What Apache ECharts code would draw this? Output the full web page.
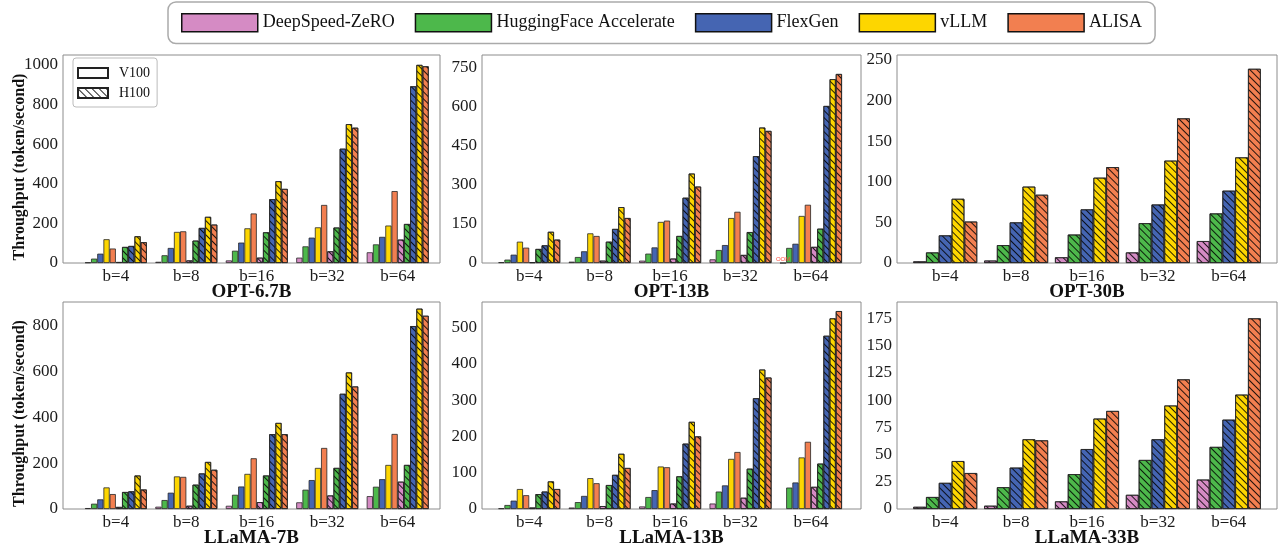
<!DOCTYPE html>
<html><head><meta charset="utf-8">
<script src="https://cdn.jsdelivr.net/npm/echarts@6/dist/echarts.min.js"></script>
<style>html,body{margin:0;padding:0;background:#fff}#c{width:1283px;height:550px}</style>
</head><body><div id="c"></div><script>
// ---------- data ----------
const batchLabels = ['b=4', 'b=8', 'b=16', 'b=32', 'b=64'];
const frameworks = ['DeepSpeed-ZeRO', 'HuggingFace Accelerate', 'FlexGen', 'vLLM', 'ALISA'];
const deviceLabels = ['V100', 'H100'];
const panelTitles = ['OPT-6.7B', 'OPT-13B', 'OPT-30B', 'LLaMA-7B', 'LLaMA-13B', 'LLaMA-33B'];
const yMaxes = [1050, 800, 256, 902, 570, 190];
const yIntervals = [200, 150, 50, 200, 100, 25];
const yAxisTitle = 'Throughput (token/second)';

// rows = frameworks (DeepSpeed, HF, FlexGen, vLLM, ALISA), cols = batch sizes
const opt67b_V100 = [[3, 6, 13, 27, 54], [22, 39, 62, 84, 94], [47, 76, 103, 128, 132], [120, 157, 175, 180, 189], [73, 160, 250, 293, 363]];
const opt67b_H100 = [[5, 13, 27, 59, 118], [81, 113, 155, 179, 197], [86, 177, 322, 577, 892], [135, 233, 413, 701, 1000], [105, 194, 374, 683, 993]];
const opt13b_V100 = [[3, 5, 9, 14, null], [13, 23, 36, 50, 58], [32, 45, 60, 69, 74], [82, 114, 158, 173, 181], [59, 104, 163, 197, 224]];
const opt13b_H100 = [[3, 9, 17, 31, 62], [54, 82, 104, 119, 132], [68, 131, 251, 411, 604], [120, 215, 344, 521, 707], [90, 173, 294, 508, 727]];
const opt30b_H100 = [[2, 3, 7, 13, 27], [13, 22, 35, 49, 61], [34, 50, 66, 72, 89], [79, 94, 105, 126, 130], [51, 84, 118, 178, 239]];
const llama7b_V100 = [[4, 10, 14, 29, 56], [23, 39, 62, 84, 97], [42, 71, 98, 126, 130], [94, 142, 153, 179, 192], [65, 140, 221, 266, 327]];
const llama7b_H100 = [[9, 14, 30, 59, 119], [74, 106, 146, 179, 192], [77, 155, 326, 502, 797], [146, 205, 375, 595, 873], [85, 171, 326, 534, 842]];
const llama13b_V100 = [[2, 4, 7, 15, null], [11, 19, 33, 48, 59], [23, 36, 52, 65, 73], [55, 85, 117, 138, 142], [38, 71, 115, 157, 185]];
const llama13b_H100 = [[4, 8, 15, 31, 61], [41, 66, 90, 111, 125], [48, 94, 180, 305, 477], [76, 152, 240, 384, 525], [55, 113, 200, 362, 545]];
const llama33b_H100 = [[2, 3, 7, 13, 27], [11, 20, 32, 45, 57], [24, 38, 55, 64, 82], [44, 64, 83, 95, 105], [33, 63, 90, 119, 175]];
const oomMarks = [{ panel: 1, device: 'V100', framework: 0, batch: 4 }];

// ---------- layout / style ----------
const panelV100 = [opt67b_V100, opt13b_V100, null, llama7b_V100, llama13b_V100, null];
const panelH100 = [opt67b_H100, opt13b_H100, opt30b_H100, llama7b_H100, llama13b_H100, llama33b_H100];
const colors = ['#D58BC4', '#4DB84B', '#4565B2', '#FDD600', '#F27F50'];
const colLeft = [63, 482, 897], colWidth = [377, 379, 380];
const colXMin = [-0.75, -0.67, -0.68], colXMax = [4.6, 4.71, 4.68];
const rowTop = [55, 302], rowHeight = [208, 207];
const FONT = 'Liberation Serif';
const hatch = { symbol: 'rect', symbolSize: 1, color: 'rgba(0,0,0,0.85)', dashArrayX: [1, 0], dashArrayY: [1, 4], rotation: Math.PI / 4 };

const grids = [], xAxes = [], yAxes = [], series = [];
for (let p = 0; p < 6; p++) {
  const r = Math.floor(p / 3), c = p % 3;
  grids.push({ left: colLeft[c], top: rowTop[r], width: colWidth[c], height: rowHeight[r],
    show: true, borderColor: '#8c8c8c', borderWidth: 1, backgroundColor: '#fff', outerBoundsMode: 'none', containLabel: false });
  xAxes.push({ type: 'value', gridIndex: p, min: colXMin[c], max: colXMax[c], minInterval: 1, maxInterval: 1,
    axisLine: { show: false }, splitLine: { show: false }, axisTick: { show: false },
    axisLabel: { customValues: [0, 1, 2, 3, 4], margin: 5, fontFamily: FONT, fontSize: 17, color: '#1a1a1a',
      formatter: v => (Number.isInteger(v) && v >= 0 && v < batchLabels.length) ? batchLabels[v] : '' },
    name: panelTitles[p], nameLocation: 'middle', nameGap: 20, nameMoveOverlap: false,
    nameTextStyle: { fontFamily: FONT, fontSize: 19, fontWeight: 'bold', color: '#111' } });
  const iv = yIntervals[p];
  const ya = { type: 'value', gridIndex: p, min: 0, max: yMaxes[p], interval: iv,
    axisLine: { show: false }, splitLine: { show: false }, axisTick: { show: false },
    axisLabel: { margin: 5, fontFamily: FONT, fontSize: 17, color: '#1a1a1a', showMaxLabel: true,
      formatter: v => (v % iv === 0 ? String(v) : '') } };
  if (c === 0) {
    Object.assign(ya, { name: yAxisTitle, nameLocation: 'middle', nameRotate: 90, nameGap: 35, nameMoveOverlap: false,
      nameTextStyle: { fontFamily: FONT, fontSize: 16, fontWeight: 'bold', color: '#111', padding: [0, 16, 0, 0] } });
  }
  yAxes.push(ya);

  const hasV = !!panelV100[p];
  const bw = hasV ? 6.2 : 12.8;
  const devices = hasV ? [['V100', panelV100[p]], ['H100', panelH100[p]]] : [['H100', panelH100[p]]];
  devices.forEach(([dev, arr]) => {
    arr.forEach((vals, fi) => {
      const data = vals.map((v, bi) => {
        if (v === null) {
          const oom = oomMarks.some(o => o.panel === p && o.device === dev && o.framework === fi && o.batch === bi);
          if (oom) return { value: [bi, 0], label: { show: true, position: 'top', distance: 0, formatter: 'OOM',
            color: '#ff4a3a', fontSize: 6, fontFamily: 'Liberation Sans' } };
          return [bi, '-'];
        }
        return [bi, v];
      });
      series.push({ type: 'bar', name: frameworks[fi], xAxisIndex: p, yAxisIndex: p, data,
        barWidth: bw, barGap: '0%', emphasis: { disabled: true }, silent: true,
        labelLayout: { hideOverlap: false },
        itemStyle: Object.assign({ color: colors[fi], borderColor: '#262626', borderWidth: 0.8 }, dev === 'H100' ? { decal: hatch } : {}) });
    });
  });
}
// hidden grid hosting the V100/H100 key series
grids.push({ left: 0, top: 0, width: 5, height: 5, show: false, outerBoundsMode: 'none' });
xAxes.push({ type: 'value', gridIndex: 6, show: false });
yAxes.push({ type: 'value', gridIndex: 6, show: false });
series.push({ type: 'bar', name: deviceLabels[0], xAxisIndex: 6, yAxisIndex: 6, data: [],
  itemStyle: { color: '#fff', borderColor: '#222', borderWidth: 1 } });
series.push({ type: 'bar', name: deviceLabels[1], xAxisIndex: 6, yAxisIndex: 6, data: [],
  itemStyle: { color: '#fff', borderColor: '#222', borderWidth: 1, decal: hatch } });

const chart = echarts.init(document.getElementById('c'), null, { renderer: 'canvas' });
chart.setOption({
  animation: false,
  backgroundColor: '#fff',
  grid: grids, xAxis: xAxes, yAxis: yAxes, series,
  legend: [
    { data: frameworks, left: 168, top: 2, icon: 'rect', itemWidth: 76, itemHeight: 18, itemGap: 20,
      padding: [11, 13], borderColor: '#aaa', borderWidth: 1.5, borderRadius: 8, backgroundColor: '#fff',
      selectedMode: false, itemStyle: { borderColor: '#111', borderWidth: 1.5 },
      textStyle: { fontFamily: FONT, fontSize: 18, color: '#111' } },
    { data: deviceLabels, orient: 'vertical', left: 73, top: 58, icon: 'rect', itemWidth: 30, itemHeight: 10, itemGap: 6,
      padding: [8, 7, 7, 4], borderColor: '#bbb', borderWidth: 1, borderRadius: 3, backgroundColor: '#fff',
      selectedMode: false, textStyle: { fontFamily: FONT, fontSize: 14, color: '#111', padding: [0, 0, 0, 6] } }
  ]
});
</script></body></html>
